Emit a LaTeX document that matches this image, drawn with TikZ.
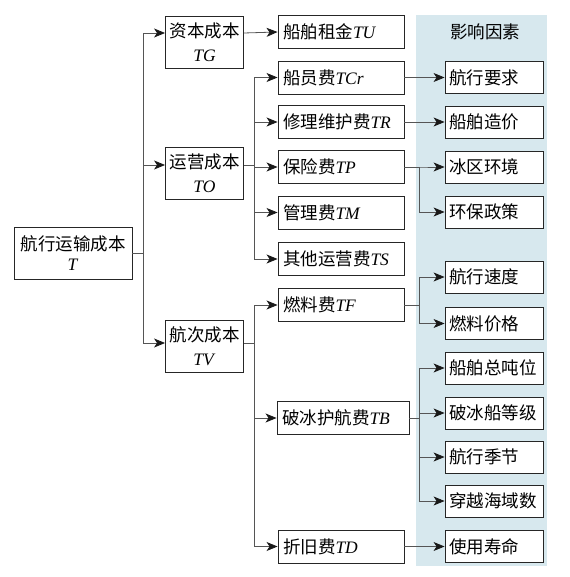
\documentclass[tikz,border=0pt]{standalone}
\usepackage{fontspec}
\setmainfont{Liberation Serif}
\newfontfamily\cjk{Noto Sans CJK SC}
\newcommand{\zh}[1]{{\cjk #1}}
\usetikzlibrary{arrows.meta}
\definecolor{band}{RGB}{215,232,238}
\definecolor{ln}{RGB}{85,85,85}

\begin{document}
\begin{tikzpicture}[
  x=1pt, y=-1pt,
  font=\fontsize{17.5}{22}\selectfont,
  box/.style={draw=black!85, line width=0.9pt, fill=white, inner sep=2pt},
  top/.style={box, align=center, minimum width=78pt, minimum height=52pt, font=\fontsize{17.5}{24}\selectfont},
  item/.style={box, align=left, text width=116pt, inner xsep=5pt, minimum height=33pt},
  fac/.style={box, align=left, text width=90pt, inner xsep=4pt, minimum height=32pt},
  arr/.style={draw=ln, line width=0.8pt, -{Stealth[length=11pt,width=9pt,inset=3pt,color=black!90,fill=black!90]}},
]
\useasboundingbox (0,0) rectangle (569,577);
% factor band on the right
\fill[band] (416,15) rectangle (547,566);
\node (ttl) at (485,32) {\zh{影响因素}};
% root and the three cost groups
\node[top, minimum width=118pt, font=\fontsize{17.5}{20}\selectfont] (T) at (73,253) {\zh{航行运输成本}\\\textit{T}};
\node[top] (TG) at (204.5,42) {\zh{资本成本}\\\textit{TG}};
\node[top] (TO) at (204.5,173) {\zh{运营成本}\\\textit{TO}};
\node[top] (TV) at (204.5,346.5) {\zh{航次成本}\\\textit{TV}};
% cost items
\node[item] (TU) at (341,32) {\zh{船舶租金}\textit{TU}};
\node[item] (TCr) at (341,77.5) {\zh{船员费}\textit{TCr}};
\node[item] (TR) at (341,122) {\zh{修理维护费}\textit{TR}};
\node[item] (TP) at (341,167) {\zh{保险费}\textit{TP}};
\node[item] (TM) at (341,212.5) {\zh{管理费}\textit{TM}};
\node[item] (TS) at (341,259) {\zh{其他运营费}\textit{TS}};
\node[item] (TF) at (341,305) {\zh{燃料费}\textit{TF}};
\node[item, text width=122pt] (TB) at (343,418) {\zh{破冰护航费}\textit{TB}};
\node[item] (TD) at (341,546.5) {\zh{折旧费}\textit{TD}};
% influencing factors
\node[fac] (f1) at (494,77.5) {\zh{航行要求}};
\node[fac] (f2) at (494,122) {\zh{船舶造价}};
\node[fac] (f3) at (494,167) {\zh{冰区环境}};
\node[fac] (f4) at (494,212) {\zh{环保政策}};
\node[fac] (f5) at (494,277) {\zh{航行速度}};
\node[fac] (f6) at (494,323.5) {\zh{燃料价格}};
\node[fac] (f7) at (494,368) {\zh{船舶总吨位}};
\node[fac] (f8) at (494,413) {\zh{破冰船等级}};
\node[fac] (f9) at (494,457) {\zh{航行季节}};
\node[fac] (f10) at (494,501) {\zh{穿越海域数}};
\node[fac] (f11) at (494,546.5) {\zh{使用寿命}};
% branch points
\coordinate (j0) at (143,0);
\coordinate (j1) at (254,0);
\coordinate (j2) at (419,0);
% root -> groups
\draw[arr] (T.east) -- (T.east -| j0) |- ([yshift=9pt]TG.west);
\draw[arr] (T.east) -- (T.east -| j0) |- ([yshift=8pt]TO.west);
\draw[arr] (T.east) -- (T.east -| j0) |- ([yshift=3.5pt]TV.west);
% groups -> items
\draw[arr] ([yshift=9pt]TG.east) -- (TU.west);
\draw[arr] ([yshift=8pt]TO.east) -- ([yshift=8pt]TO.east -| j1) |- (TCr.west);
\draw[arr] ([yshift=8pt]TO.east) -- ([yshift=8pt]TO.east -| j1) |- (TR.west);
\draw[arr] ([yshift=8pt]TO.east) -- ([yshift=8pt]TO.east -| j1) |- (TP.west);
\draw[arr] ([yshift=8pt]TO.east) -- ([yshift=8pt]TO.east -| j1) |- (TM.west);
\draw[arr] ([yshift=8pt]TO.east) -- ([yshift=8pt]TO.east -| j1) |- (TS.west);
\draw[arr] ([yshift=3.5pt]TV.east) -- ([yshift=3.5pt]TV.east -| j1) |- (TF.west);
\draw[arr] ([yshift=3.5pt]TV.east) -- ([yshift=3.5pt]TV.east -| j1) |- (TB.west);
\draw[arr] ([yshift=3.5pt]TV.east) -- ([yshift=3.5pt]TV.east -| j1) |- (TD.west);
% items -> factors
\draw[arr] (TCr) -- (f1);
\draw[arr] (TR) -- (f2);
\draw[arr] (TP.east) -- (TP.east -| j2) |- (f3.west);
\draw[arr] (TP.east) -- (TP.east -| j2) |- (f4.west);
\draw[arr] (TF.east) -- (TF.east -| j2) |- (f5.west);
\draw[arr] (TF.east) -- (TF.east -| j2) |- (f6.west);
\draw[arr] (TB.east) -- (TB.east -| j2) |- (f7.west);
\draw[arr] (TB.east) -- (TB.east -| j2) |- (f8.west);
\draw[arr] (TB.east) -- (TB.east -| j2) |- (f9.west);
\draw[arr] (TB.east) -- (TB.east -| j2) |- (f10.west);
\draw[arr] (TD) -- (f11);
\end{tikzpicture}
\end{document}
